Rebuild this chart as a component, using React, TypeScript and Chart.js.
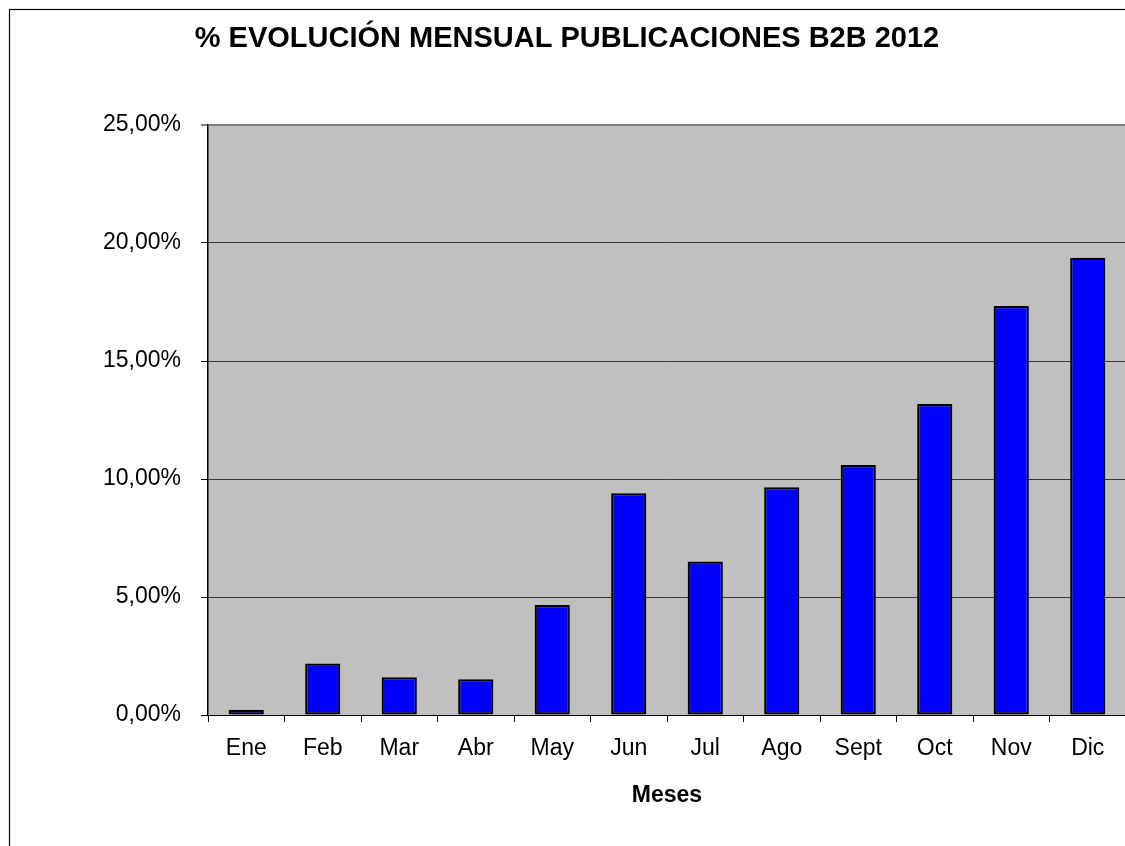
import React, { useEffect, useRef } from "react";
import { Chart, registerables } from "chart.js";

Chart.register(...registerables);

const months = ["Ene", "Feb", "Mar", "Abr", "May", "Jun", "Jul", "Ago", "Sept", "Oct", "Nov", "Dic"];
const evolution = [0.22, 2.18, 1.6, 1.52, 4.66, 9.4, 6.5, 9.65, 10.59, 13.18, 17.33, 19.37];
const yMin = 0;
const yMax = 25;
const yStep = 5;
const titleText = "% EVOLUCIÓN MENSUAL PUBLICACIONES B2B 2012";
const xTitle = "Meses";

const FONT = "'Liberation Sans', Arial, Helvetica, sans-serif";

const backgroundPlugin = {
  id: "bgAndBorder",
  beforeDraw(chart: any) {
    const { ctx, chartArea, width, height } = chart;
    ctx.save();
    ctx.fillStyle = "#ffffff";
    ctx.fillRect(0, 0, width, height);
    ctx.strokeStyle = "#000000";
    ctx.lineWidth = 1.2;
    ctx.strokeRect(1.5, 1.5, width + 20, height + 20);
    ctx.fillStyle = "#C0C0C0";
    ctx.fillRect(chartArea.left, chartArea.top, chartArea.right - chartArea.left, chartArea.bottom - chartArea.top);
    ctx.restore();
  },
};

export default function App() {
  const ref = useRef<HTMLCanvasElement | null>(null);

  useEffect(() => {
    document.body.style.margin = "0";
    if (!ref.current) return;
    const chart = new Chart(ref.current, {
      type: "bar",
      data: {
        labels: months,
        datasets: [
          {
            data: evolution,
            backgroundColor: "#0000FF",
            borderColor: "#000000",
            borderWidth: 2.2,
            borderSkipped: false,
            barPercentage: 0.46,
            categoryPercentage: 1,
          },
        ],
      },
      options: {
        animation: false,
        responsive: false,
        events: [],
        layout: { padding: { left: 0, right: 5, top: 0, bottom: 48.8 } },
        plugins: {
          legend: { display: false },
          tooltip: { enabled: false },
          title: {
            display: true,
            text: titleText,
            color: "#000000",
            font: { family: FONT, size: 29, weight: "bold" },
            padding: { top: 13.6, bottom: 68.6 },
          },
        },
        scales: {
          x: {
            offset: true,
            grid: {
              display: true,
              offset: true,
              drawOnChartArea: false,
              drawTicks: true,
              tickLength: 7,
              tickColor: "#000000",
              tickWidth: 1,
            },
            border: { display: true, color: "#000000", width: 1 },
            ticks: {
              color: "#000000",
              font: { family: FONT, size: 23 },
              padding: 13,
              maxRotation: 0,
              autoSkip: false,
            },
            title: {
              display: true,
              text: xTitle,
              color: "#000000",
              font: { family: FONT, size: 23, weight: "bold" },
              padding: { top: 6, bottom: 10 },
            },
          },
          y: {
            min: yMin,
            max: yMax,
            afterFit(scale: any) {
              scale.width = 200;
            },
            grid: {
              color: (c: any) => (c.tick && c.tick.value === yMax ? "#808080" : "#383838"),
              lineWidth: (c: any) => (c.tick && c.tick.value === yMax ? 2 : 1),
              tickLength: 7,
              tickColor: "#000000",
              tickWidth: 1,
            },
            border: { display: true, color: "#000000", width: 1.5 },
            ticks: {
              stepSize: yStep,
              color: "#000000",
              font: { family: FONT, size: 23 },
              padding: 20,
              callback: (v: any) => Number(v).toFixed(2).replace(".", ",") + "%",
            },
          },
        },
      },
      plugins: [backgroundPlugin],
    });
    return () => chart.destroy();
  }, []);

  return (
    <div style={{ position: "relative", width: 1125, height: 846, overflow: "hidden" }}>
      <canvas
        ref={ref}
        width={1123}
        height={860}
        style={{ display: "block", position: "absolute", left: 8, top: 8 }}
      />
    </div>
  );
}
